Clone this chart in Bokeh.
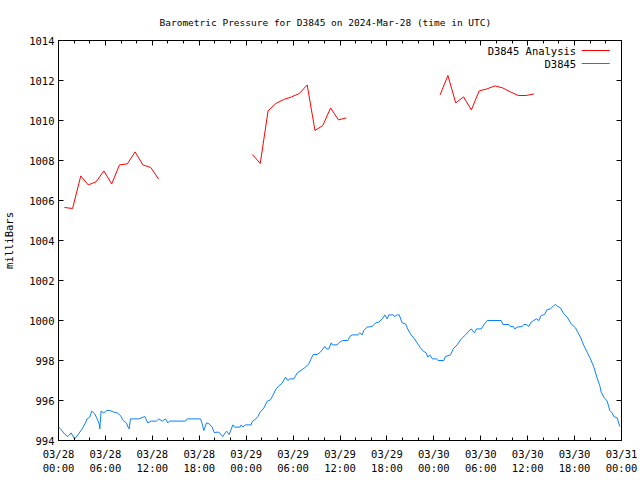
import math
from bokeh.plotting import figure
from bokeh.models import FixedTicker, LinearAxis, Label, Arrow, Range1d
from bokeh.embed import file_html
from bokeh.resources import INLINE

# hours since 2024-03-28 00:00 UTC
analysis_hours = [0.77, 1.8, 2.85, 3.8, 4.8, 5.8, 6.8, 7.8, 8.8, 9.8, 10.8, 11.8, 12.8,
                  float("nan"),
                  24.8, 25.8, 26.8, 27.8, 28.8, 29.8, 30.8, 31.8, 32.8, 33.8, 34.8, 35.8, 36.8,
                  float("nan"),
                  48.8, 49.8, 50.8, 51.8, 52.8, 53.8, 54.8, 55.8, 56.8, 57.8, 58.8, 59.8, 60.8]
analysis_mb = [1005.65, 1005.6, 1007.23, 1006.78, 1006.93, 1007.48, 1006.83, 1007.78, 1007.83, 1008.43, 1007.78, 1007.65, 1007.07,
               float("nan"),
               1008.3, 1007.85, 1010.48, 1010.85, 1011.05, 1011.18, 1011.35, 1011.78, 1009.5, 1009.75, 1010.63, 1010.03, 1010.13,
               float("nan"),
               1011.28, 1012.25, 1010.88, 1011.18, 1010.53, 1011.48, 1011.58, 1011.73, 1011.63, 1011.43, 1011.25, 1011.25, 1011.33]

obs_hours = [0.05, 0.26, 0.77, 1.2, 1.62, 2.05, 2.47, 3.03, 3.45, 3.66, 4.0, 4.26, 4.64, 4.94, 5.2, 5.28, 5.45,
             5.8, 6.14, 6.56, 7.07, 7.5, 7.93, 8.27, 8.7, 8.9, 9.04, 9.2, 10.27, 11.04, 11.42, 11.85,
             12.53, 12.83, 13.26, 13.68, 13.98, 14.2, 16.24, 16.46, 18.16, 18.38, 18.58, 18.93, 19.27,
             19.65, 19.9, 20.5, 21.0, 21.5, 21.83, 22.3, 22.55, 23.2, 23.36, 23.6, 23.87, 24.64, 24.77,
             25.2, 25.5, 25.75, 26.26, 26.7, 27.1, 27.45, 27.75, 28.17, 28.6, 29.03, 29.33, 29.58, 30.1,
             30.53, 31.1, 31.6, 32.0, 32.3, 32.57, 33.08, 33.5, 34.05, 34.27, 34.57, 34.87, 35.04, 35.64,
             35.85, 36.3, 37.0, 37.25, 37.56, 38.27, 38.53, 38.84, 39.04, 39.47, 40.11, 40.54, 40.96,
             41.4, 41.74, 42.04, 42.24, 42.8, 42.97, 43.32, 43.57, 43.95, 44.38, 44.72, 45.1, 45.53,
             45.95, 46.3, 46.64, 47.03, 47.23, 47.48, 47.83, 48.34, 48.56, 49.28, 49.49, 50.13, 50.47,
             50.98, 51.5, 52.05, 52.47, 52.78, 53.2, 53.46, 54.06, 54.48, 54.83, 56.62, 56.83, 57.6,
             57.8, 58.15, 58.36, 58.66, 59.3, 59.5, 59.85, 60.15, 60.45, 60.79, 61.1, 61.43, 61.73,
             62.16, 62.5, 62.92, 63.35, 63.56, 63.86, 64.2, 64.62, 65.05, 65.56, 66.12, 66.4, 66.75,
             67.18, 67.6, 68.03, 68.46, 68.88, 69.22, 69.4, 69.74, 70.17, 70.5, 70.82, 71.02, 71.45, 71.78]
obs_mb = [994.65, 994.58, 994.33, 994.2, 994.38, 994.08, 994.28, 994.58, 994.88, 995.08, 995.17, 995.47, 995.33, 995.08, 994.83, 994.58, 995.47,
          995.38, 995.5, 995.5, 995.42, 995.38, 995.25, 995.0, 994.87, 994.67, 994.58, 995.08, 995.08, 995.2, 994.88, 994.97,
          994.97, 995.08, 994.97, 995.08, 994.88, 994.97, 994.97, 995.08, 995.08, 994.83, 994.5, 994.88, 994.83,
          994.67, 994.4, 994.42, 994.2, 994.47, 994.3, 994.78, 994.67, 994.67, 994.78, 994.67, 994.78, 994.78, 994.95,
          995.07, 995.2, 995.4, 995.62, 995.97, 996.03, 996.28, 996.53, 996.73, 996.87, 997.17, 997.0, 997.08, 997.08,
          997.38, 997.53, 997.67, 997.83, 998.08, 998.3, 998.3, 998.42, 998.7, 998.58, 998.58, 998.88, 998.78, 998.78,
          998.88, 999.0, 999.0, 999.2, 999.28, 999.28, 999.38, 999.28, 999.5, 999.67, 999.7, 999.88, 999.92,
          1000.08, 1000.28, 1000.08, 1000.28, 1000.28, 1000.2, 1000.28, 1000.28, 999.88, 999.83, 999.53, 999.28, 999.08,
          998.83, 998.63, 998.47, 998.38, 998.17, 998.28, 998.08, 998.08, 998.0, 998.0, 998.2, 998.28, 998.58,
          998.78, 999.08, 999.28, 999.47, 999.58, 999.38, 999.58, 999.58, 999.83, 1000.0, 1000.0, 999.8, 999.8,
          999.7, 999.7, 999.58, 999.67, 999.7, 999.8, 999.8, 999.7, 999.92, 1000.0, 1000.08, 1000.0, 1000.25,
          1000.3, 1000.55, 1000.58, 1000.75, 1000.8, 1000.7, 1000.63, 1000.33, 1000.17, 999.83, 999.63, 999.42, 999.17,
          998.75, 998.42, 998.08, 997.67, 997.13, 996.75, 996.42, 996.17, 995.97, 995.5, 995.37, 995.2, 995.13, 994.7]

x_tick_hours = [0, 6, 12, 18, 24, 30, 36, 42, 48, 54, 60, 66, 72]
x_tick_labels = ["03/28\n00:00", "03/28\n06:00", "03/28\n12:00", "03/28\n18:00",
                 "03/29\n00:00", "03/29\n06:00", "03/29\n12:00", "03/29\n18:00",
                 "03/30\n00:00", "03/30\n06:00", "03/30\n12:00", "03/30\n18:00",
                 "03/31\n00:00"]
x_minor_hours = list(range(0, 73, 2))
y_ticks = [994, 996, 998, 1000, 1002, 1004, 1006, 1008, 1010, 1012, 1014]

series_names = ["D3845 Analysis", "D3845"]
series_colors = ["#ff0000", "#0a80ff"]

FONT = "DejaVu Sans Mono"
LABEL_SIZE = "10.5px"

p = figure(width=640, height=480, output_backend="svg", toolbar_location=None,
           x_range=Range1d(0, 72), y_range=Range1d(994, 1014),
           min_border_left=58, min_border_right=19, min_border_top=40, min_border_bottom=40,
           x_axis_type=None, y_axis_type=None,
           title="Barometric Pressure for D3845 on 2024-Mar-28 (time in UTC)")
p.title.align = "left"
p.title.text_font = FONT
p.title.text_font_size = "9.5px"
p.title.text_font_style = "normal"
p.title.text_color = "black"
p.title.offset = 101
p.title.standoff = 26
p.outline_line_color = "black"
p.outline_line_width = 1
p.xgrid.visible = False
p.ygrid.visible = False
p.background_fill_color = "white"
p.border_fill_color = "white"

xt = FixedTicker(ticks=x_tick_hours, minor_ticks=x_minor_hours)
yt = FixedTicker(ticks=y_ticks, minor_ticks=[])

def style_axis(ax):
    ax.axis_line_color = None
    ax.major_tick_in = 5
    ax.major_tick_out = 0
    ax.minor_tick_in = 3
    ax.minor_tick_out = 0
    ax.major_tick_line_color = "black"
    ax.minor_tick_line_color = "black"
    ax.major_label_text_font = FONT
    ax.major_label_text_font_size = LABEL_SIZE
    ax.major_label_text_color = "black"
    ax.major_label_standoff = 4

def mirror_axis(ax, ticks):
    style_axis(ax)
    ax.major_label_standoff = 0
    ax.major_label_overrides = {t: "" for t in ticks}

xb = LinearAxis(ticker=xt)
style_axis(xb)
xb.major_label_standoff = 7
xb.major_label_overrides = {h: l for h, l in zip(x_tick_hours, x_tick_labels)}
p.add_layout(xb, "below")

xa = LinearAxis(ticker=xt)
mirror_axis(xa, x_tick_hours)
p.add_layout(xa, "above")

yl = LinearAxis(ticker=yt, axis_label="milliBars")
style_axis(yl)
yl.axis_label_text_font = FONT
yl.axis_label_text_font_size = LABEL_SIZE
yl.axis_label_text_font_style = "normal"
yl.axis_label_text_color = "black"
yl.axis_label_standoff = 11
p.add_layout(yl, "left")

yr = LinearAxis(ticker=yt)
mirror_axis(yr, y_ticks)
p.add_layout(yr, "right")

p.line(analysis_hours, analysis_mb, line_color=series_colors[0], line_width=1)
p.line(obs_hours, obs_mb, line_color=series_colors[1], line_width=1)

# gnuplot-style key: text then line sample, top right inside the frame
key_text_x = 66.2
key_line = (66.9, 70.5)
key_y = [1013.5, 1012.85]
for name, color, ky in zip(series_names, series_colors, key_y):
    p.add_layout(Label(x=key_text_x, y=ky, text=name, text_align="right", text_baseline="middle",
                       text_font=FONT, text_font_size=LABEL_SIZE, text_color="black"))
    p.add_layout(Arrow(x_start=key_line[0], y_start=ky, x_end=key_line[1], y_end=ky,
                       start=None, end=None, line_color=color, line_width=1))

open("out.html", "w").write(file_html(p, INLINE))
